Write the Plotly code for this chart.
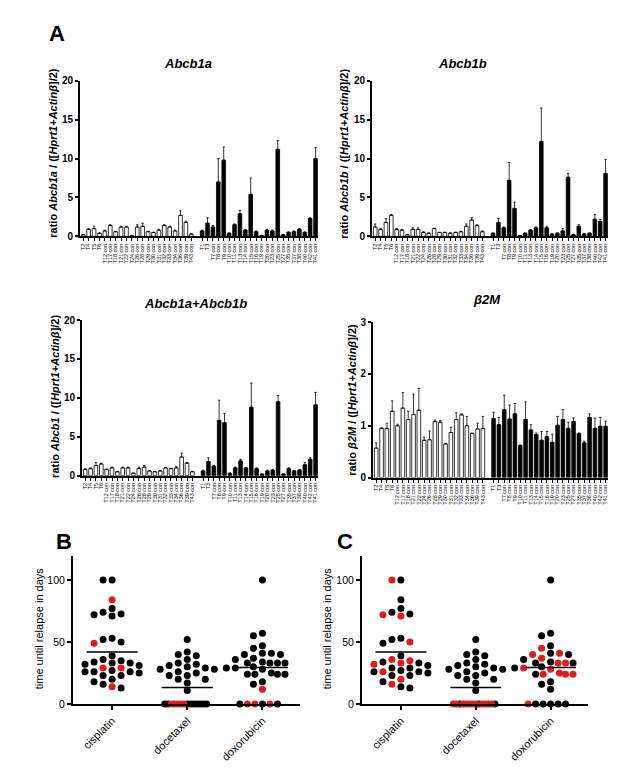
import plotly.graph_objects as go

W, H = 619, 779
FONT = "Arial, Liberation Sans, sans-serif"

# ---------------- Panel A data ----------------
white_labels = ["T2", "T4", "T5", "T6", "T12 con", "T17 con", "T18 con", "T21 con", "T22 con", "T24 con",
                "T26 con", "T28 con", "T29 con", "T30 con", "T31 con", "T32 con", "T33 con", "T34 con",
                "T36 con", "T39 con", "T43 con"]
black_labels = ["T1", "T3", "T7 con", "T8 con", "T9 con", "T10 con", "T11 con", "T13 con", "T14 con",
                "T15 con", "T16 con", "T19 con", "T20 con", "T23 con", "T25 con", "T27 con", "T35 con",
                "T37 con", "T38 con", "T40 con", "T42 con", "T41 con"]

abcb1a_white = [0.2, 0.9, 1.0, 0.4, 0.7, 1.4, 0.6, 1.2, 1.2, 0.1, 1.2, 1.3, 0.6, 0.5, 0.8, 1.4, 1.2, 0.7, 2.7, 1.8, 0.3]
abcb1a_white_err = [0.05, 0.1, 0.3, 0.05, 0.1, 0.1, 0.05, 0.1, 0.1, 0.02, 0.3, 0.4, 0.05, 0.05, 0.1, 0.1, 0.1, 0.1, 0.6, 0.15, 0.05]
abcb1a_black = [0.7, 1.7, 1.2, 7.0, 9.8, 0.4, 1.5, 2.9, 0.8, 5.4, 0.6, 0.1, 0.8, 0.7, 11.2, 0.2, 0.5, 0.6, 0.9, 0.5, 2.3, 10.0]
abcb1a_black_err = [0.1, 0.7, 0.2, 3.0, 1.7, 0.05, 0.1, 0.4, 0.1, 2.1, 0.1, 0.02, 0.1, 0.1, 1.1, 0.05, 0.1, 0.1, 0.1, 0.1, 0.1, 1.4]

abcb1b_white = [1.2, 0.9, 1.8, 2.7, 0.9, 0.8, 0.2, 0.9, 0.9, 0.5, 0.4, 1.0, 0.5, 0.5, 0.4, 0.5, 0.6, 1.3, 2.1, 1.4, 0.6]
abcb1b_white_err = [0.4, 0.1, 0.5, 0.1, 0.1, 0.1, 0.02, 0.2, 0.2, 0.1, 0.05, 0.05, 0.05, 0.05, 0.05, 0.05, 0.05, 0.3, 0.3, 0.1, 0.1]
abcb1b_black = [0.4, 1.8, 1.1, 7.2, 3.6, 0.1, 0.4, 0.8, 1.1, 12.2, 1.1, 0.3, 0.4, 0.7, 7.6, 0.2, 1.3, 0.3, 0.4, 2.2, 1.9, 8.1]
abcb1b_black_err = [0.05, 0.5, 0.1, 2.3, 0.8, 0.02, 0.05, 0.05, 0.1, 4.3, 0.2, 0.05, 0.05, 0.3, 0.5, 0.05, 0.2, 0.05, 0.05, 0.6, 0.3, 1.8]

comb_white = [0.8, 0.9, 1.3, 1.5, 0.8, 1.0, 0.5, 1.0, 1.0, 0.3, 0.9, 1.1, 0.6, 0.5, 0.6, 1.0, 0.9, 1.0, 2.4, 1.6, 0.5]
comb_white_err = [0.1, 0.1, 0.4, 0.1, 0.05, 0.1, 0.05, 0.1, 0.1, 0.05, 0.2, 0.2, 0.05, 0.05, 0.05, 0.05, 0.05, 0.2, 0.5, 0.1, 0.05]
comb_black = [0.6, 1.8, 1.2, 7.1, 6.8, 0.3, 1.0, 1.9, 1.0, 8.8, 0.9, 0.2, 0.6, 0.7, 9.5, 0.2, 0.9, 0.6, 0.7, 1.4, 2.1, 9.1]
comb_black_err = [0.1, 0.5, 0.1, 2.6, 1.2, 0.05, 0.1, 0.2, 0.05, 3.1, 0.1, 0.02, 0.1, 0.1, 0.8, 0.02, 0.1, 0.05, 0.1, 0.3, 0.2, 1.6]

b2m_white = [0.57, 0.95, 0.95, 1.28, 1.0, 1.34, 1.12, 1.22, 1.3, 0.72, 0.73, 1.08, 1.07, 0.65, 0.87, 1.12, 1.21, 1.0, 0.85, 0.94, 0.95]
b2m_white_err = [0.1, 0.01, 0.1, 0.2, 0.03, 0.3, 0.16, 0.39, 0.42, 0.06, 0.17, 0.03, 0.03, 0.01, 0.1, 0.13, 0.02, 0.18, 0.01, 0.11, 0.23]
b2m_black = [1.14, 1.02, 1.31, 1.13, 1.23, 0.62, 1.12, 0.92, 0.83, 0.72, 0.79, 0.68, 1.01, 1.12, 0.95, 1.08, 0.85, 0.67, 1.16, 0.95, 0.99, 0.99]
b2m_black_err = [0.12, 0.14, 0.28, 0.27, 0.2, 0.01, 0.34, 0.1, 0.03, 0.17, 0.1, 0.16, 0.17, 0.19, 0.12, 0.07, 0.01, 0.03, 0.07, 0.2, 0.17, 0.1]

# ---------------- Panel B / C data ----------------
drugs = ["cisplatin", "docetaxel", "doxorubicin"]
cis_days = [100, 100, 84, 74, 72, 71, 72.5, 77, 52, 49, 50, 53, 39, 36, 35, 34, 33, 33, 32, 31,
            29, 29, 26, 27, 26, 25, 26, 20, 23, 23, 18, 16, 13, 14]
cis_col_B = ["k", "k", "r", "k", "k", "k", "k", "k", "k", "r", "k", "k", "k", "k", "k", "k", "k", "k", "k", "k",
             "r", "r", "k", "k", "k", "k", "k", "k", "k", "k", "k", "k", "k", "r"]
cis_col_C = ["k", "r", "k", "k", "r", "r", "k", "k", "k", "k", "r", "k", "k", "r", "r", "k", "r", "k", "r", "k",
             "k", "k", "r", "k", "k", "k", "k", "r", "k", "k", "k", "r", "k", "k"]
doc_days = [52, 42, 40, 39, 36, 33, 32, 31, 30, 29, 28, 28, 26, 25, 23, 23, 20, 20, 17, 11,
            0, 0, 0, 0, 0, 0, 0, 0, 0, 0, 0, 0, 0, 0]
doc_col_B = ["k"] * 20 + ["k", "r", "k", "r", "k", "r", "k", "r", "k", "r", "k", "k", "k", "k"]
doc_col_C = ["k"] * 20 + ["r", "r", "k", "r", "r", "r", "r", "r", "r", "k", "r", "r", "k", "r"]
dox_days = [100, 57, 55, 47, 45, 41, 41, 40, 40, 37, 36, 34, 33, 33, 33, 33, 30, 29, 29, 28,
            25, 24, 24, 24, 24, 18, 16, 12, 0, 0, 0, 0, 0, 0]
dox_col_B = ["k"] * 27 + ["r", "k", "r", "r", "r", "k", "k"]
dox_col_C = ["k", "k", "k", "k", "r", "k", "r", "r", "k", "r", "k", "k", "r", "k", "r", "k", "k", "r", "k", "r",
             "r", "r", "k", "r", "r", "k", "k", "k", "k", "k", "k", "k", "k", "r"]
mean_days = [42, 13.3, 29.5]

COL = {"k": "#000000", "r": "#e01b1b"}


def px_x(a, b):
    return [a / W, b / W]


def px_y(top, bottom):
    return [1 - bottom / H, 1 - top / H]


fig = go.Figure()

bar_panels = [
    (abcb1a_white, abcb1a_white_err, abcb1a_black, abcb1a_black_err, (80, 318), (76, 234), 20),
    (abcb1b_white, abcb1b_white_err, abcb1b_black, abcb1b_black_err, (372, 608), (76, 234), 20),
    (comb_white, comb_white_err, comb_black, comb_black_err, (82, 318), (319, 477), 20),
    (b2m_white, b2m_white_err, b2m_black, b2m_black_err, (373, 608), (321, 479), 3),
]

white_pos = list(range(len(white_labels)))
black_pos = [len(white_labels) + 1 + i for i in range(len(black_labels))]

layout_axes = {}
for k, (wv, we, bv, be, xr, yr, ymax) in enumerate(bar_panels, start=1):
    xa = "x" if k == 1 else f"x{k}"
    ya = "y" if k == 1 else f"y{k}"
    fig.add_trace(go.Bar(x=white_pos, y=wv, xaxis=xa, yaxis=ya, width=0.68,
                         marker=dict(color="white", line=dict(color="black", width=0.8)),
                         error_y=dict(type="data", array=we, arrayminus=[0] * len(we), symmetric=False,
                                      color="black", thickness=0.8, width=1.2),
                         showlegend=False))
    fig.add_trace(go.Bar(x=black_pos, y=bv, xaxis=xa, yaxis=ya, width=0.68,
                         marker=dict(color="black", line=dict(color="black", width=0.8)),
                         error_y=dict(type="data", array=be, arrayminus=[0] * len(be), symmetric=False,
                                      color="black", thickness=0.8, width=1.2),
                         showlegend=False))
    dtick = 5 if ymax == 20 else 1
    layout_axes["xaxis" if k == 1 else f"xaxis{k}"] = dict(
        domain=px_x(*xr), anchor=ya, range=[-0.6, 43.45],
        tickmode="array", tickvals=white_pos + black_pos, ticktext=white_labels + black_labels,
        tickangle=-90, tickfont=dict(size=5.5, family=FONT, color="black"),
        showline=True, linewidth=2, linecolor="black", ticks="outside", ticklen=3, tickwidth=1,
        tickcolor="black", showgrid=False, zeroline=False, fixedrange=True)
    layout_axes["yaxis" if k == 1 else f"yaxis{k}"] = dict(
        domain=px_y(*yr), anchor=xa, range=[0, ymax], dtick=dtick, tick0=0,
        tickfont=dict(size=10, family=FONT, color="black", weight="bold"),
        showline=True, linewidth=2, linecolor="black", ticks="outside", ticklen=3, tickwidth=1.5,
        tickcolor="black", showgrid=False, zeroline=False, fixedrange=True)

fig.update_layout(**layout_axes)


# ---------------- beeswarm for B / C ----------------
def swarm(vals, step=0.12, xpx=75.0, ypx=1.26, dmin=7.0, maxhalf=0.3):
    order = sorted(range(len(vals)), key=lambda i: -vals[i])
    placed = {}
    cand = [0]
    for s in range(1, 12):
        cand += [-s, s]
    for i in order:
        v = vals[i]
        chosen = cand[-1]
        for c in cand:
            ok = True
            for (o, pv) in placed.values():
                if ((c * step - o) * xpx) ** 2 + ((v - pv) * ypx) ** 2 < dmin ** 2:
                    ok = False
                    break
            if ok:
                chosen = c
                break
        placed[i] = (chosen * step, v)
    offs = [placed[i][0] for i in range(len(vals))]
    groups = {}
    for i, v in enumerate(vals):
        groups.setdefault(v, []).append(i)
    for v, idx in groups.items():
        m = max(abs(offs[i]) for i in idx)
        if len(idx) >= 4 and m > maxhalf:
            for i in idx:
                offs[i] = offs[i] * maxhalf / m
    return offs


dot_panels = [
    ([cis_col_B, doc_col_B, dox_col_B], (73, 300), 5),
    ([cis_col_C, doc_col_C, dox_col_C], (362, 588), 6),
]
all_days = [cis_days, doc_days, dox_days]
for cols, xr, k in dot_panels:
    xa, ya = f"x{k}", f"y{k}"
    for g, (vals, cl) in enumerate(zip(all_days, cols)):
        offs = swarm(vals)
        for key in ["k", "r"]:
            xs = [g + o for o, c in zip(offs, cl) if c == key]
            ys = [v for v, c in zip(vals, cl) if c == key]
            fig.add_trace(go.Scatter(x=xs, y=ys, mode="markers", xaxis=xa, yaxis=ya, cliponaxis=False,
                                     marker=dict(size=7, color=COL[key], line=dict(width=0)),
                                     showlegend=False, hoverinfo="y"))
        fig.add_trace(go.Scatter(x=[g - 0.34, g + 0.34], y=[mean_days[g]] * 2, mode="lines",
                                 xaxis=xa, yaxis=ya, line=dict(color="black", width=1.5),
                                 showlegend=False, hoverinfo="skip"))
    fig.update_layout(**{
        f"xaxis{k}": dict(domain=px_x(*xr), anchor=ya, range=[-0.52, 2.5], tickmode="array",
                          tickvals=[0, 1, 2], ticktext=drugs, tickangle=-45,
                          tickfont=dict(size=11, family=FONT, color="black"),
                          showline=True, linewidth=2, linecolor="black", ticks="outside", ticklen=4,
                          tickwidth=1.5, tickcolor="black", showgrid=False, zeroline=False, fixedrange=True),
        f"yaxis{k}": dict(domain=px_y(559, 709), anchor=xa, range=[0, 119], tickvals=[0, 50, 100],
                          tickfont=dict(size=10.5, family=FONT, color="black"),
                          showline=True, linewidth=2, linecolor="black", ticks="outside", ticklen=4,
                          tickwidth=1.5, tickcolor="black", showgrid=False, zeroline=False, fixedrange=True),
    })

# ---------------- annotations ----------------
ann = []


def add_text(text, x, y, size, angle=0, bold=False, italic=False):
    t = text
    if italic:
        t = f"<i>{t}</i>"
    if bold:
        t = f"<b>{t}</b>"
    ann.append(dict(text=t, x=x / W, y=1 - y / H, xref="paper", yref="paper", showarrow=False,
                    textangle=angle, xanchor="center", yanchor="middle",
                    font=dict(size=size, family=FONT, color="black")))


add_text("A", 57, 28, 22, bold=True)
add_text("B", 64, 544, 22, bold=True)
add_text("C", 345, 544, 22, bold=True)

add_text("Abcb1a", 188, 58, 13, bold=True, italic=True)
add_text("Abcb1b", 462, 58, 13, bold=True, italic=True)
add_text("Abcb1a+Abcb1b", 195, 302, 13, bold=True, italic=True)
add_text("β2M", 487, 298, 13, bold=True, italic=True)

ytitles = [
    ("ratio <i>Abcb1a</i> / ([<i>Hprt1</i>+<i>Actinβ</i>]/2)", 53, 150),
    ("ratio <i>Abcb1b</i> / ([<i>Hprt1</i>+<i>Actinβ</i>]/2)", 344, 150),
    ("ratio <i>Abcb1</i> / ([<i>Hprt1</i>+<i>Actinβ</i>]/2)", 55, 397),
    ("ratio <i>β2M</i> / ([<i>Hprt1</i>+<i>Actinβ</i>]/2)", 352, 400),
]
for t, x, y in ytitles:
    add_text(t, x, y, 11, angle=-90, bold=True)

add_text("time until relapse in days", 39, 632, 11, angle=-90)
add_text("time until relapse in days", 327, 632, 11, angle=-90)

fig.update_layout(
    width=W, height=H, margin=dict(l=0, r=0, t=0, b=0, pad=0),
    paper_bgcolor="white", plot_bgcolor="rgba(0,0,0,0)",
    bargap=0.2, annotations=ann, font=dict(family=FONT, color="black"),
)

fig.write_html("out.html", config={"displayModeBar": False},
               post_script="document.body.style.margin='0';document.body.style.padding='0';document.body.style.overflow='hidden';")
